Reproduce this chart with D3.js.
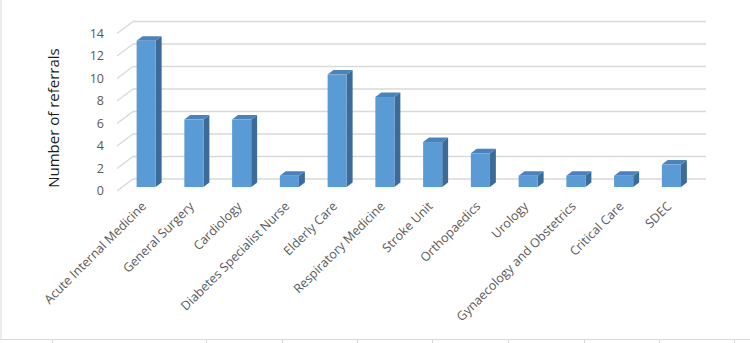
<!DOCTYPE html>
<html><head><meta charset="utf-8">
<script src="https://cdn.jsdelivr.net/npm/d3@7"></script>
<style>html,body{margin:0;padding:0;background:#fff;}svg{display:block;}</style>
</head><body>
<svg id="c" width="750" height="343"></svg>
<script>
const categories = ["Acute Internal Medicine","General Surgery","Cardiology","Diabetes Specialist Nurse","Elderly Care","Respiratory Medicine","Stroke Unit","Orthopaedics","Urology","Gynaecology and Obstetrics","Critical Care","SDEC"];
const referrals = [13,6,6,1,10,8,4,3,1,1,1,2];
const yTicks = [0,2,4,6,8,10,12,14];
const yTitle = "Number of referrals";

const svg = d3.select("#c");
const W = 750, H = 343;

// 3D geometry
const DX = 16, DY = -12;          // depth of the plot box
const fFront = 0.33, fBack = 0.70; // bar position in depth
const x = d3.scaleBand().domain(categories).range([117, 690]).paddingInner(0.6).paddingOuter(0.3);
const y = d3.scaleLinear().domain([0, 14]).range([191, 33.5]);
const backX0 = 117 + DX, backX1 = 690 + DX;

// chart frame
svg.append("line").attr("x1",1).attr("x2",1).attr("y1",0).attr("y2",339).attr("stroke","#d9d9d9").attr("stroke-width",1);
svg.append("line").attr("x1",0).attr("x2",W).attr("y1",339.5).attr("y2",339.5).attr("stroke","#d9d9d9").attr("stroke-width",1);
[52,206,282,357,432,508,584,659,734].forEach(px=>{
  svg.append("line").attr("x1",px+0.5).attr("x2",px+0.5).attr("y1",340).attr("y2",343).attr("stroke","#d9d9d9");
});

// gridlines (back wall + side wall diagonals)
const grid = svg.append("g");
grid.selectAll("line.back").data(yTicks).join("line")
  .attr("x1", backX0).attr("x2", backX1)
  .attr("y1", d => y(d) + DY).attr("y2", d => y(d) + DY)
  .attr("stroke","#d9d9d9").attr("stroke-width",1.3);
grid.selectAll("line.side").data(yTicks).join("line")
  .attr("x1", 117).attr("x2", backX0)
  .attr("y1", d => y(d)).attr("y2", d => y(d) + DY)
  .attr("stroke","#d9d9d9").attr("stroke-width",1.3);

// y tick labels
svg.append("g").selectAll("text").data(yTicks).join("text")
  .attr("x", 104).attr("y", d => y(d)).attr("dy","0.35em")
  .attr("text-anchor","end").attr("font-family","Open Sans, sans-serif")
  .attr("font-size",12.5).attr("fill","#595959").text(d => d);

// y title
svg.append("text").attr("transform","translate(59,118) rotate(-90)")
  .attr("text-anchor","middle").attr("font-family","Open Sans, sans-serif")
  .attr("font-size",15).attr("fill","#1a1a1a").text(yTitle);

// bars
const fdx = DX*fFront, fdy = DY*fFront, bdx = DX*fBack, bdy = DY*fBack;
const sdx = bdx - fdx, sdy = bdy - fdy;
const bars = svg.append("g").selectAll("g").data(categories.map((c,i)=>({c, v: referrals[i]}))).join("g");
bars.append("path") // side
  .attr("d", d => {
    const x1 = x(d.c) + x.bandwidth() + fdx, yt = y(d.v) + fdy, yb = y(0) + fdy;
    return `M${x1},${yb}L${x1},${yt}L${x1+sdx},${yt+sdy}L${x1+sdx},${yb+sdy}Z`;
  }).attr("fill","#3d6b97");
bars.append("path") // top
  .attr("d", d => {
    const x0 = x(d.c) + fdx, x1 = x0 + x.bandwidth(), yt = y(d.v) + fdy;
    return `M${x0},${yt}L${x1},${yt}L${x1+sdx},${yt+sdy}L${x0+sdx},${yt+sdy}Z`;
  }).attr("fill","#4a83bb");
bars.append("rect") // front
  .attr("x", d => x(d.c) + fdx).attr("width", x.bandwidth())
  .attr("y", d => y(d.v) + fdy).attr("height", d => y(0) - y(d.v))
  .attr("fill","#5b9bd5");

// category labels
svg.append("g").selectAll("text").data(categories).join("text")
  .attr("transform", d => `translate(${x(d) + x.bandwidth()/2 + 3},${204}) rotate(-45)`)
  .attr("text-anchor","end").attr("dy","0.35em")
  .attr("font-family","Open Sans, sans-serif").attr("font-size",12.5)
  .attr("fill","#595959").text(d => d);
</script>
</body></html>
